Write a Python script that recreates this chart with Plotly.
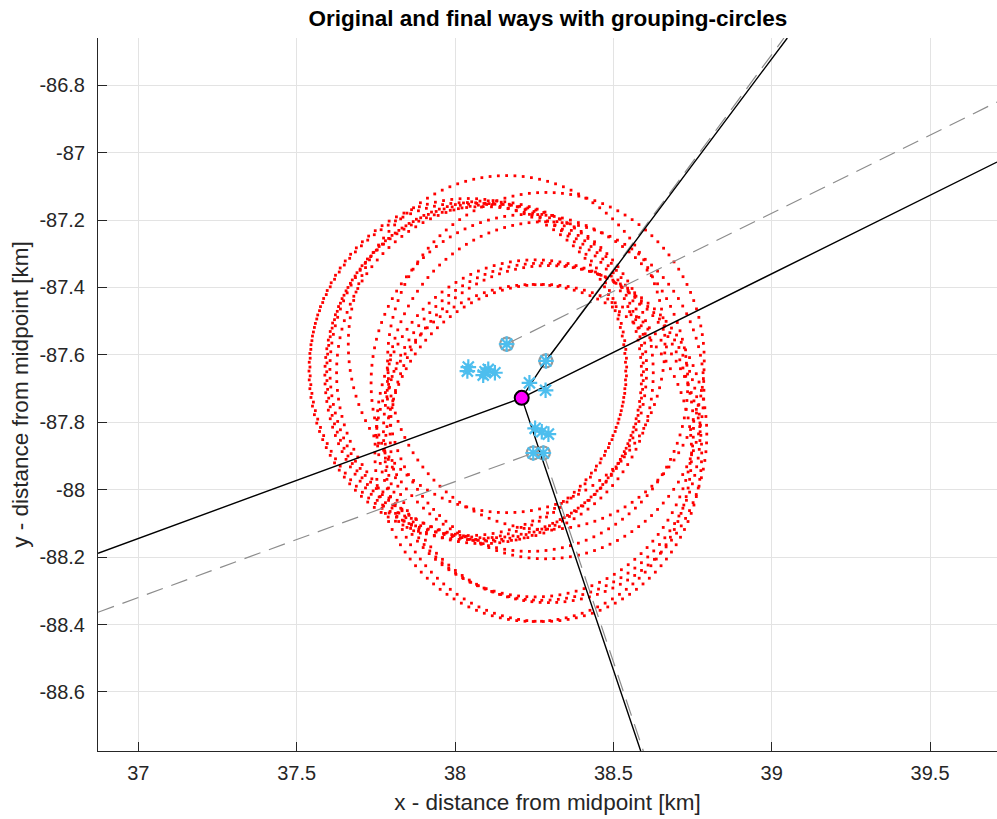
import numpy as np
import plotly.graph_objects as go

# ---------------- data (km from midpoint) ----------------
# points of the ways (blue asterisks)
pts_x = [38.042, 38.039, 38.095, 38.105, 38.126, 38.089, 38.235, 38.286,
         38.253, 38.274, 38.295, 38.247, 38.279, 38.163, 38.287]
pts_y = [-87.636, -87.648, -87.650, -87.643, -87.653, -87.660, -87.683, -87.705,
         -87.818, -87.828, -87.835, -87.891, -87.891, -87.568, -87.618]

# end points of the original ways (grey circles)
end_x = [38.163, 38.287, 38.247, 38.279]
end_y = [-87.568, -87.618, -87.891, -87.891]

# grouping-circle radius [km] and number of drawn dots per circle
group_radius = 0.5
dots_per_circle = 120

# new intersection point (magenta)
cross_x = [38.2106]
cross_y = [-87.7275]

# original ways (grey dashed)
orig_ways = [
    ([36.8727, 38.247], [-88.3636, -87.891]),
    ([38.163, 39.7114], [-87.568, -86.8498]),
    ([38.287, 39.0388], [-87.618, -86.6598]),
    ([38.279, 38.5946], [-87.891, -88.7752]),
]

# final ways (black)
final_ways = [
    ([36.8727, 38.2106, 39.7114], [-88.1884, -87.7275, -87.0278]),
    ([38.5864, 38.2106, 38.287, 39.0493], [-88.7752, -87.7275, -87.618, -86.6598]),
]

x_ticks = [37, 37.5, 38, 38.5, 39, 39.5]
x_tick_text = ["37", "37.5", "38", "38.5", "39", "39.5"]
y_ticks = [-86.8, -87, -87.2, -87.4, -87.6, -87.8, -88, -88.2, -88.4, -88.6]
y_tick_text = ["-86.8", "-87", "-87.2", "-87.4", "-87.6", "-87.8", "-88", "-88.2", "-88.4", "-88.6"]

x_range = [36.8727, 39.7114]
y_range = [-88.7752, -86.6598]

# ---------------- figure ----------------
AX = "#262626"
FONT = "Liberation Sans, Arial, Helvetica, sans-serif"

fig = go.Figure()

# grouping circles (red dots) around every way point
ang = np.linspace(0, 2 * np.pi, dots_per_circle, endpoint=False)
cx_all, cy_all = [], []
for cx, cy in zip(pts_x, pts_y):
    cx_all.extend(cx + group_radius * np.cos(ang))
    cy_all.extend(cy + group_radius * np.sin(ang))
fig.add_trace(go.Scatter(x=cx_all, y=cy_all, mode="markers",
                         marker=dict(symbol="square", size=2.8, color="#ff0000",
                                     line=dict(width=0)),
                         hoverinfo="skip", showlegend=False))

for wx, wy in orig_ways:
    fig.add_trace(go.Scatter(x=wx, y=wy, mode="lines",
                             line=dict(color="#8c8c8c", width=1.2, dash="17px,9px"),
                             hoverinfo="skip", showlegend=False))

fig.add_trace(go.Scatter(x=end_x, y=end_y, mode="markers",
                         marker=dict(symbol="circle-open", size=13, color="#999999",
                                     line=dict(color="#999999", width=2.2)),
                         showlegend=False))

for wx, wy in final_ways:
    fig.add_trace(go.Scatter(x=wx, y=wy, mode="lines",
                             line=dict(color="#000000", width=1.4),
                             hoverinfo="skip", showlegend=False))

fig.add_trace(go.Scatter(x=pts_x, y=pts_y, mode="markers",
                         marker=dict(symbol="asterisk-open", size=13, color="#4dbeee",
                                     line=dict(color="#4dbeee", width=2.2)),
                         showlegend=False))

fig.add_trace(go.Scatter(x=cross_x, y=cross_y, mode="markers",
                         marker=dict(symbol="circle", size=14, color="#ff00ff",
                                     line=dict(color="#000000", width=2)),
                         showlegend=False))

axis_common = dict(
    showgrid=True, gridcolor="#e3e3e3", gridwidth=1,
    zeroline=False, showline=True, linecolor=AX, linewidth=1,
    ticks="inside", ticklen=9, tickcolor=AX, tickwidth=1,
    tickfont=dict(family=FONT, size=20, color=AX),
    mirror=False,
)

fig.update_layout(
    width=997, height=819,
    margin=dict(l=98, r=0, t=38, b=68),
    paper_bgcolor="white", plot_bgcolor="white",
    title=dict(text="<b>Original and final ways with grouping-circles</b>",
               x=0.5496, xref="container", xanchor="center",
               y=1 - 18 / 819, yref="container", yanchor="middle",
               font=dict(family=FONT, size=22.5, color="#000000")),
    xaxis=dict(range=x_range, tickvals=x_ticks, ticktext=x_tick_text,
               title=dict(text="x - distance from midpoint [km]",
                          font=dict(family=FONT, size=22.5, color=AX), standoff=11),
               ticklabelstandoff=4, **axis_common),
    yaxis=dict(range=y_range, tickvals=y_ticks, ticktext=y_tick_text,
               title=dict(text="y - distance from midpoint [km]",
                          font=dict(family=FONT, size=22.5, color=AX), standoff=4),
               ticklabelstandoff=8, **axis_common),
)

fig.write_html("out.html")
